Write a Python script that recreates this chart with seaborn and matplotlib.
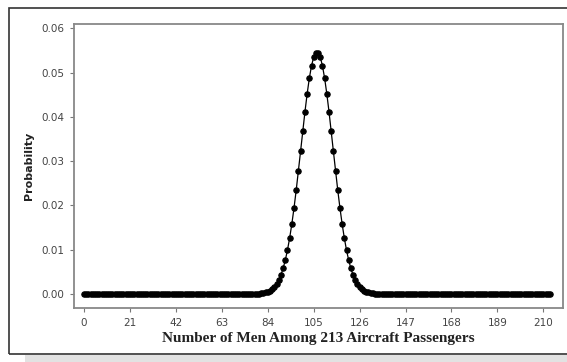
import matplotlib
matplotlib.use('Agg')
import matplotlib.pyplot as plt
import matplotlib.patches as patches
import seaborn as sns

# Number of men (0..213) and the probability
men = list(range(0, 214))
left_tail = [0.0] * 80          # 0..79 sit flat on zero
peak = [0.00007, 0.00012, 0.00020, 0.00031, 0.00047, 0.00071, 0.00106, 0.00154,
        0.00220, 0.00308, 0.00424, 0.00573, 0.00759, 0.00988, 0.01261, 0.01579,
        0.01942, 0.02343, 0.02774, 0.03224, 0.03677, 0.04116, 0.04520, 0.04873,
        0.05155, 0.05353, 0.05454, 0.05454, 0.05353, 0.05155, 0.04873, 0.04520,
        0.04116, 0.03677, 0.03224, 0.02774, 0.02343, 0.01942, 0.01579, 0.01261,
        0.00988, 0.00759, 0.00573, 0.00424, 0.00308, 0.00220, 0.00154, 0.00106,
        0.00071, 0.00047, 0.00031, 0.00020, 0.00012, 0.00007]   # 80..133
right_tail = [0.0] * 80         # 134..213 flat on zero
prob = left_tail + peak + right_tail

x_ticks = [0, 21, 42, 63, 84, 105, 126, 147, 168, 189, 210]
y_ticks = [0.00, 0.01, 0.02, 0.03, 0.04, 0.05, 0.06]
y_labels = ['0.00', '0.01', '0.02', '0.03', '0.04', '0.05', '0.06']

sns.set_style('white')

fig = plt.figure(figsize=(5.67, 3.62), dpi=100)
ax = fig.add_axes([0.1305, 0.1492, 0.8625, 0.7845])

sns.lineplot(x=men, y=prob, ax=ax, color='black', linewidth=0.9,
             marker='o', markersize=3.9, markeredgecolor='black',
             markerfacecolor='black')

ax.set_xlim(-4.6, 219)
ax.set_ylim(-0.0032, 0.061)
ax.set_xticks(x_ticks)
ax.set_yticks(y_ticks)
ax.set_yticklabels(y_labels)
ax.tick_params(axis='both', direction='out', length=3, width=0.8,
               color='#777777', labelsize=7.5, labelcolor='#444444',
               bottom=True, left=True, pad=4)

for s in ax.spines.values():
    s.set_color('#888888')
    s.set_linewidth(1.3)

ax.set_xlabel('Number of Men Among 213 Aircraft Passengers',
              family='Liberation Serif', fontweight='bold', fontsize=11,
              color='#222222', labelpad=3)
ax.set_ylabel('Probability', fontweight='bold', fontsize=8,
              color='#222222', labelpad=5)

# outer frame and grey strip under it
fig.patches.append(patches.Rectangle((0.0159, 0.0221), 1.2, 0.9558,
                                     transform=fig.transFigure, fill=False,
                                     edgecolor='#333333', linewidth=1.2))
fig.patches.append(patches.Rectangle((0.044, 0.0), 1.0, 0.02,
                                     transform=fig.transFigure,
                                     facecolor='#e2e2e2', edgecolor='none'))

fig.savefig('out.png', dpi=100)
